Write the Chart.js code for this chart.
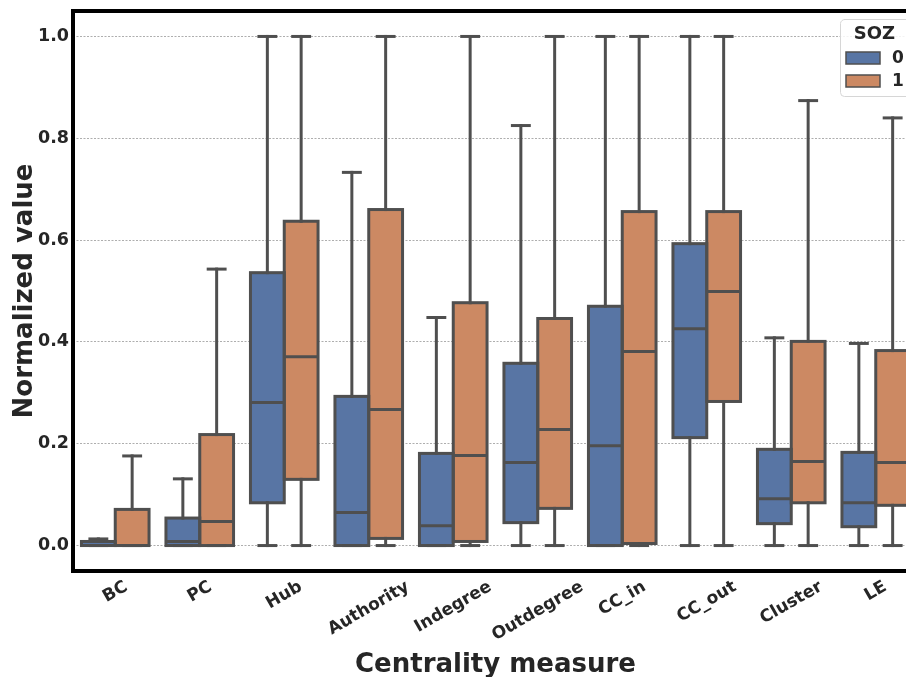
<!DOCTYPE html>
<html>
<head>
<meta charset="utf-8">
<script src="https://cdn.jsdelivr.net/npm/chart.js@4.4.0/dist/chart.umd.min.js"></script>
<style>
  html, body { margin: 0; padding: 0; background: #fff; overflow: hidden; }
  #wrap { width: 906px; height: 677px; overflow: hidden; }
  canvas { display: block; }
</style>
</head>
<body>
<div id="wrap"><canvas id="boxChart" width="920" height="677"></canvas></div>
<script>
// Box plot of normalized centrality measures, split by SOZ group.
// Boxes are floating bars; whiskers, medians and caps are drawn by a small plugin.

const categories = ['BC', 'PC', 'Hub', 'Authority', 'Indegree', 'Outdegree', 'CC_in', 'CC_out', 'Cluster', 'LE'];
const groups = ['0', '1'];
const yTicks = [0, 0.2, 0.4, 0.6, 0.8, 1.0];

// SOZ = 0
const soz0Min = [0, 0, 0, 0, 0, 0, 0, 0, 0, 0];
const soz0Q1  = [0, 0, 0.084, 0, 0, 0.045, 0, 0.212, 0.043, 0.037];
const soz0Med = [0, 0.008, 0.281, 0.065, 0.039, 0.163, 0.196, 0.426, 0.092, 0.084];
const soz0Q3  = [0.008, 0.054, 0.536, 0.293, 0.181, 0.358, 0.470, 0.593, 0.189, 0.183];
const soz0Max = [0.013, 0.131, 1.0, 0.733, 0.448, 0.825, 1.0, 1.0, 0.408, 0.397];

// SOZ = 1
const soz1Min = [0, 0, 0, 0, 0, 0, 0, 0, 0, 0];
const soz1Q1  = [0, 0, 0.130, 0.014, 0.008, 0.073, 0.004, 0.283, 0.084, 0.079];
const soz1Med = [0, 0.047, 0.371, 0.267, 0.177, 0.228, 0.381, 0.499, 0.165, 0.163];
const soz1Q3  = [0.071, 0.218, 0.637, 0.660, 0.477, 0.446, 0.656, 0.656, 0.401, 0.383];
const soz1Max = [0.176, 0.543, 1.0, 1.0, 1.0, 1.0, 1.0, 1.0, 0.874, 0.840];

const colors = ['#5875a4', '#cc8963'];
const lineColor = '#4f4f4f';
const textColor = '#262626';
const FONT = "'DejaVu Sans', sans-serif";
const TICK_SIZE = 17;

const stats = [
  [soz0Min, soz0Q1, soz0Med, soz0Q3, soz0Max],
  [soz1Min, soz1Q1, soz1Med, soz1Q3, soz1Max],
];

function line(ctx, x1, y1, x2, y2) {
  ctx.beginPath();
  ctx.moveTo(x1, y1);
  ctx.lineTo(x2, y2);
  ctx.stroke();
}

/**
 * Draw whiskers, caps, box outlines and medians on top of the floating bars.
 */
const boxPlugin = {
  id: 'boxPlugin',
  afterDatasetsDraw(chart) {
    const ctx = chart.ctx;
    const y = chart.scales.y;
    ctx.save();
    ctx.strokeStyle = lineColor;
    ctx.lineWidth = 3;
    ctx.lineCap = 'square';
    ctx.lineJoin = 'miter';
    stats.forEach((s, d) => {
      chart.getDatasetMeta(d).data.forEach((bar, i) => {
        const x = bar.x;
        const w = bar.width;
        const yMin = y.getPixelForValue(s[0][i]);
        const yQ1 = y.getPixelForValue(s[1][i]);
        const yMed = y.getPixelForValue(s[2][i]);
        const yQ3 = y.getPixelForValue(s[3][i]);
        const yMax = y.getPixelForValue(s[4][i]);
        // whiskers
        if (yMax < yQ3) line(ctx, x, yQ3, x, yMax);
        if (yMin > yQ1) line(ctx, x, yQ1, x, yMin);
        // caps
        line(ctx, x - w / 4, yMax, x + w / 4, yMax);
        line(ctx, x - w / 4, yMin, x + w / 4, yMin);
        // box outline
        ctx.strokeRect(x - w / 2, yQ3, w, yQ1 - yQ3);
        // median
        ctx.lineCap = 'butt';
        line(ctx, x - w / 2, yMed, x + w / 2, yMed);
        ctx.lineCap = 'square';
      });
    });
    ctx.restore();
  },
  afterDraw(chart) {
    const ctx = chart.ctx;
    const area = chart.chartArea;
    const xs = chart.scales.x;
    ctx.save();

    // spines
    ctx.strokeStyle = '#000';
    ctx.lineWidth = 4;
    ctx.lineCap = 'square';
    ctx.beginPath();
    ctx.moveTo(area.left, area.top);
    ctx.lineTo(area.right, area.top);
    ctx.lineTo(area.right, area.bottom);
    ctx.lineTo(area.left, area.bottom);
    ctx.closePath();
    ctx.stroke();

    // rotated x tick labels, centred under each tick
    ctx.font = 'bold ' + TICK_SIZE + 'px ' + FONT;
    ctx.fillStyle = textColor;
    ctx.textAlign = 'center';
    ctx.textBaseline = 'middle';
    const ang = Math.PI / 6;
    categories.forEach((label, i) => {
      const x = xs.getPixelForTick(i);
      const L = ctx.measureText(label).width;
      const h = TICK_SIZE * 1.17;
      const bboxH = L * Math.sin(ang) + h * Math.cos(ang);
      ctx.save();
      ctx.translate(x, area.bottom + 6 + bboxH / 2);
      ctx.rotate(-ang);
      ctx.fillText(label, 0, 0);
      ctx.restore();
    });

    // legend
    const lx = 840, ly = 19, lw = 100, lh = 77;
    ctx.fillStyle = 'rgba(255,255,255,0.85)';
    ctx.strokeStyle = '#d6d6d6';
    ctx.lineWidth = 1;
    ctx.beginPath();
    ctx.roundRect(lx + 0.5, ly + 0.5, lw, lh, 4);
    ctx.fill();
    ctx.stroke();
    ctx.fillStyle = textColor;
    ctx.font = 'bold 18px ' + FONT;
    ctx.textAlign = 'center';
    ctx.fillText('SOZ', 874.5, 34);
    groups.forEach((g, k) => {
      const py = 52 + k * 23;
      ctx.fillStyle = colors[k];
      ctx.fillRect(846, py, 34, 12);
      ctx.strokeStyle = lineColor;
      ctx.lineWidth = 1.5;
      ctx.strokeRect(846, py, 34, 12);
      ctx.fillStyle = textColor;
      ctx.font = 'bold ' + TICK_SIZE + 'px ' + FONT;
      ctx.textAlign = 'left';
      ctx.fillText(g, 892, py + 6.5);
    });
    ctx.restore();
  },
};

const datasets = stats.map((s, d) => ({
  label: groups[d],
  data: categories.map((_, i) => [s[1][i], s[3][i]]),
  backgroundColor: colors[d],
  borderWidth: 0,
  barPercentage: 1.0,
  categoryPercentage: 0.8,
}));

const ctx = document.getElementById('boxChart').getContext('2d');
new Chart(ctx, {
  type: 'bar',
  data: { labels: categories, datasets },
  plugins: [boxPlugin],
  options: {
    responsive: false,
    animation: false,
    layout: { padding: { left: 0, right: 2, top: 11, bottom: 0 } },
    plugins: {
      legend: { display: false },
      tooltip: { enabled: false },
    },
    scales: {
      x: {
        type: 'category',
        grid: { display: false },
        border: { display: false },
        ticks: { display: false },
        afterFit(scale) {
          scale.height = 106;
          scale.paddingLeft = 0;
          scale.paddingRight = 0;
        },
        title: {
          display: true,
          text: 'Centrality measure',
          color: textColor,
          font: { family: FONT, size: 26, weight: 'bold', lineHeight: 0.9 },
          padding: { top: 0, bottom: 0 },
        },
      },
      y: {
        min: -0.05,
        max: 1.05,
        afterBuildTicks(scale) {
          scale.ticks = yTicks.map((v) => ({ value: v }));
        },
        afterFit(scale) {
          scale.width = 73;
          scale.paddingTop = 0;
          scale.paddingBottom = 0;
        },
        ticks: {
          color: textColor,
          font: { family: FONT, size: 17.5, weight: 'bold' },
          padding: 4,
          callback: (v) => Number(v).toFixed(1),
        },
        grid: { color: 'rgba(110,110,110,0.7)', lineWidth: 0.8, drawTicks: false },
        border: { display: false, dash: [2, 1.5] },
        title: {
          display: true,
          text: 'Normalized value',
          color: textColor,
          font: { family: FONT, size: 26, weight: 'bold' },
          padding: { top: 9.5, bottom: 0 },
        },
      },
    },
  },
});
</script>
</body>
</html>
